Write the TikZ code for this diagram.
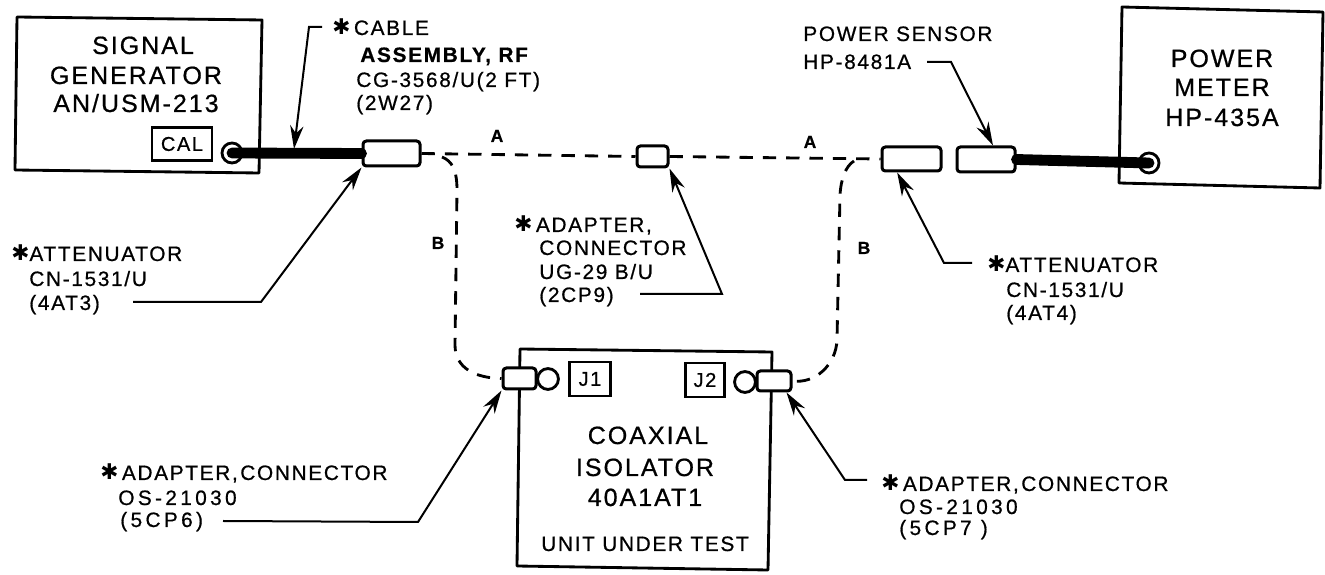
\documentclass[tikz,border=0pt]{standalone}
\usepackage{fontspec}
\setmainfont[LetterSpace=8,FakeBold=0.7]{Liberation Sans}
\newfontfamily\starfont{DejaVu Sans}
\usetikzlibrary{arrows.meta}
\newcommand{\st}{{\starfont\fontsize{13}{14}\selectfont ✱}}
\newcommand{\widelab}{\addfontfeature{LetterSpace=16}}
\tikzset{
  x=0.6pt,y=-0.6pt,
  big/.style={font=\fontsize{15}{17}\selectfont,anchor=base,inner sep=0pt},
  lab/.style={font=\fontsize{12.5}{14}\selectfont,anchor=base west,inner sep=0pt},
  letter/.style={font=\fontsize{10.5}{12}\selectfont\bfseries,anchor=base,inner sep=0pt},
  wh/.style 2 args={minimum width=#1*0.6pt,minimum height=#2*0.6pt},
  box/.style={line width=1.7pt,line join=round},
  conn/.style={draw,fill=white,line width=1.8pt,rounded corners=2pt,inner sep=0pt},
  tag/.style={draw,fill=white,line width=1.6pt,inner sep=0pt,font=\fontsize{12}{14}\selectfont},
  port/.style={draw,fill=white,circle,line width=1.7pt,inner sep=0pt},
  cable/.style={line width=6.5pt,line cap=round},
  route/.style={line width=1.7pt,dash pattern=on 8pt off 6pt},
  leader/.style={line width=1.2pt,-{Stealth[length=14pt,width=8pt]}},
}
\begin{document}
\begin{tikzpicture}
\useasboundingbox (0,0) rectangle (1325,575);
% instrument outlines
\draw[box] (17,17) -- (262,20) -- (259,173) -- (15,170) -- cycle;
\draw[box] (1122,7) -- (1323,12) -- (1320,188) -- (1119,183) -- cycle;
\draw[box] (520,349) -- (772,352) -- (768,570) -- (517,566) -- cycle;
% instrument text
\node[big] (sg1) at (143,54) {SIGNAL};
\node[big] (sg2) at (136,84) {GENERATOR};
\node[big] (sg3) at (136,112) {AN/USM-213};
\node[big] (pm1) at (1222,67) {POWER};
\node[big] (pm2) at (1222,96) {METER};
\node[big] (pm3) at (1222,126) {HP-435A};
\node[big] (ut1) at (648,444) {COAXIAL};
\node[big] (ut2) at (645,476) {ISOLATOR};
\node[big] (ut3) at (645,506) {40A1AT1};
\node[lab,anchor=base] (ut4) at (645,551) {UNIT UNDER TEST};
% tags
\node[tag,wh={60}{33}] (cal) at (182,144) {CAL};
\node[tag,wh={41}{34}] (j1) at (590,379) {J1};
\node[tag,wh={39}{34}] (j2) at (705,380) {J2};
% ports
\node[port,minimum size=12pt] (p1) at (232,153) {};
\node[port,minimum size=12pt] (p2) at (1149,163) {};
\node[port,minimum size=12.5pt] (p3) at (548,379) {};
\node[port,minimum size=12.5pt] (p4) at (745,382) {};
% connectors
\node[conn,wh={57}{25}] (att1) at (391.5,153.5) {};
\node[conn,wh={31}{21}] (adp) at (652.5,156.5) {};
\node[conn,wh={59}{24}] (att2) at (911.5,159) {};
\node[conn,wh={58}{25}] (sens) at (986,159.5) {};
\node[conn,wh={33}{21}] (adl) at (519.5,378.5) {};
\node[conn,wh={34}{20}] (adr) at (774,381) {};
% cables
\draw[cable] (p1.center) -- (att1.west);
\draw[cable] (sens.east) -- (p2.center);
% routes
\draw[route] (att1.east) -- (adp.west);
\draw[route] (adp.east) -- (att2.west);
\draw[route] (442,157) .. controls (452,161) and (457,170) .. (457,190) -- (455,345) .. controls (455,368) and (475,378) .. (adl.west);
\draw[route] (854,161) .. controls (846,166) and (841,178) .. (840,195) -- (837,340) .. controls (836,365) and (815,384) .. (adr.east);
\node[letter] (a1) at (497,142) {A};
\node[letter] (a2) at (810,148) {A};
\node[letter] (b1) at (438,249) {B};
\node[letter] (b2) at (864,254) {B};
% labels
\node[lab] (c1) at (332,35) {\st\,CABLE};
\node[lab,font=\fontsize{12.5}{14}\selectfont\bfseries] (c2) at (360,62) {ASSEMBLY, RF};
\node[lab] (c3) at (356,87) {CG-3568/U(2 FT)};
\node[lab] (c4) at (356,110) {(2W27)};
\node[lab] (t1) at (11,261) {\st ATTENUATOR};
\node[lab] (t2) at (29,286) {CN-1531/U};
\node[lab] (t3) at (29,310) {(4AT3)};
\node[lab] (d1) at (514,232) {\st\,ADAPTER,};
\node[lab] (d2) at (539,255) {CONNECTOR};
\node[lab] (d3) at (539,279) {UG-29 B/U};
\node[lab] (d4) at (539,302) {(2CP9)};
\node[lab] (s1) at (803,41) {POWER SENSOR};
\node[lab] (s2) at (803,69) {HP-8481A};
\node[lab] (u1) at (987,272) {\st ATTENUATOR};
\node[lab] (u2) at (1006,297) {CN-1531/U};
\node[lab] (u3) at (1006,320) {(4AT4)};
\node[lab] (v1) at (100,480) {\spaceskip=1.5pt \st\,ADAPTER, CONNECTOR};
\node[lab] (v2) at (118,505) {\widelab OS-21030};
\node[lab] (v3) at (120,527) {\widelab (5CP6)};
\node[lab] (w1) at (881,491) {\spaceskip=1.5pt \st\,ADAPTER, CONNECTOR};
\node[lab] (w2) at (899,514) {\widelab OS-21030};
\node[lab] (w3) at (899,535) {\widelab (5CP7 )};
% leaders
\coordinate (cb) at (294,149);
\coordinate (lc) at (322,27);
\coordinate (lt) at (133,302);
\coordinate (ld) at (640,294);
\coordinate (ls) at (927,62);
\coordinate (lu) at (972,263);
\coordinate (lv) at (223,521);
\coordinate (lw) at (867,480);
\draw[leader] (lc) -- (309,27) -- (cb);
\draw[leader] (lt) -- (261,302) -- (att1.south west);
\draw[leader] (ld) -- (722,294) -- (adp.south east);
\draw[leader] (ls) -- (951,62) -- ([xshift=4.2pt]sens.north);
\draw[leader] (lu) -- (944,263) -- ([xshift=10pt]att2.south west);
\draw[leader] (lv) -- (418,522) -- (adl.south west);
\draw[leader] (lw) -- (845,480) -- ([xshift=-3.6pt]adr.south east);
\end{tikzpicture}
\end{document}
